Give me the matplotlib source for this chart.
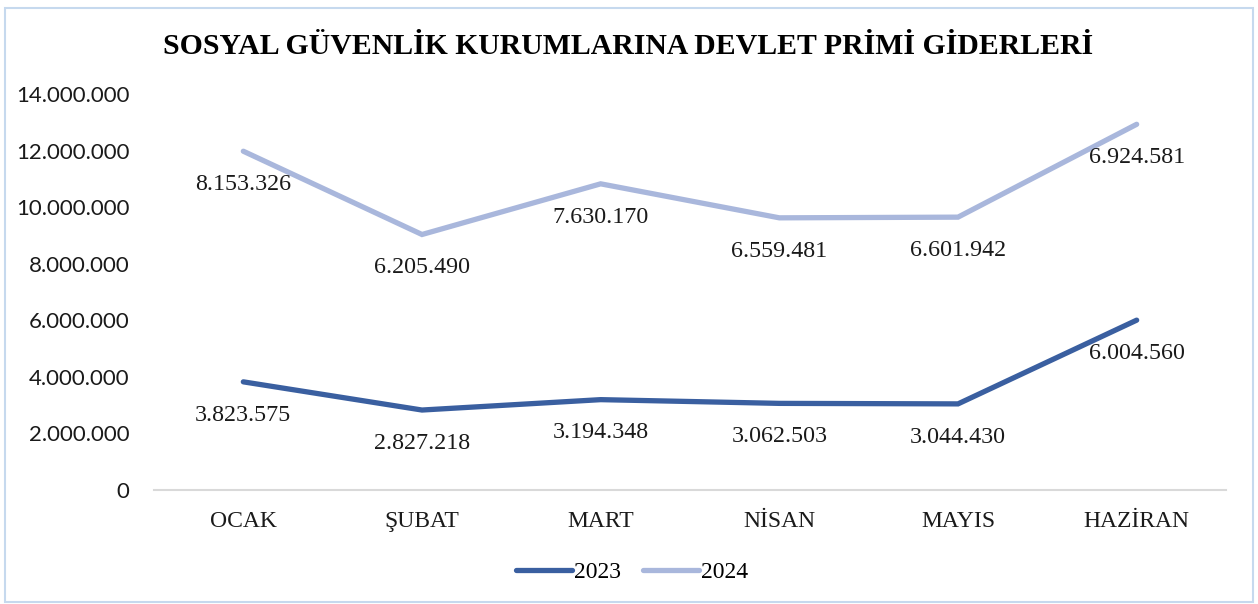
import matplotlib
matplotlib.use("Agg")
import matplotlib.pyplot as plt
import numpy as np
from matplotlib.patches import Rectangle
from matplotlib.ticker import FuncFormatter

months = ["OCAK", "ŞUBAT", "MART", "NİSAN", "MAYIS", "HAZİRAN"]
v2023 = [3823575, 2827218, 3194348, 3062503, 3044430, 6004560]
v2024 = [8153326, 6205490, 7630170, 6559481, 6601942, 6924581]
yticks = [0, 2000000, 4000000, 6000000, 8000000, 10000000, 12000000, 14000000]

c2023 = "#3A5FA0"
c2024 = "#A9B7DC"
serif = "Liberation Serif"

def tr(n):
    return f"{n:,}".replace(",", ".")

fig = plt.figure(figsize=(12.58, 6.04), dpi=100)
fig.patch.set_facecolor("white")
fig.patches.append(Rectangle((5/1258, 1 - 602/604), 1248/1258, 594/604,
                             transform=fig.transFigure, fill=False,
                             edgecolor="#C6D9EE", linewidth=1.5))

ax = fig.add_axes([154/1258, 1 - 490/604, (1226-154)/1258, (490-94)/604])
x = np.arange(len(months))
stack2024 = np.add(v2023, v2024)

ax.plot(x, v2023, color=c2023, lw=3.8, solid_capstyle="round", solid_joinstyle="miter", label="2023")
ax.plot(x, stack2024, color=c2024, lw=3.8, solid_capstyle="round", solid_joinstyle="miter", label="2024")

for xi, y, v in zip(x, v2023, v2023):
    ax.annotate(tr(v), (xi, y), xytext=(0, -24), textcoords="offset points",
                ha="center", va="center", fontsize=17.3, family=serif, color="#1a1a1a")
for xi, y, v in zip(x, stack2024, v2024):
    ax.annotate(tr(v), (xi, y), xytext=(0, -24), textcoords="offset points",
                ha="center", va="center", fontsize=17.3, family=serif, color="#1a1a1a")

ax.set_xlim(-0.5, len(months) - 0.5)
ax.set_ylim(0, 14000000)
ax.set_yticks(yticks)
ax.yaxis.set_major_formatter(FuncFormatter(lambda v, p: tr(int(v))))
ax.set_xticks(x)
ax.set_xticklabels(months, family=serif, fontsize=17)
for lab in ax.get_yticklabels():
    lab.set_family("Lato")
    lab.set_fontsize(16)
ax.tick_params(axis="both", length=0, colors="#1a1a1a")
ax.tick_params(axis="y", pad=17.5)
ax.tick_params(axis="x", pad=15)
for s in ["top", "right", "left"]:
    ax.spines[s].set_visible(False)
ax.spines["bottom"].set_color("#D9D9D9")
ax.spines["bottom"].set_linewidth(1.5)
ax.set_facecolor("none")

fig.text(628/1258, 1 - 46/604, "SOSYAL GÜVENLİK KURUMLARINA DEVLET PRİMİ GİDERLERİ",
         ha="center", va="center", fontsize=21.4, fontweight="bold", family=serif)

leg = fig.legend(loc="center", bbox_to_anchor=(632/1258, 1 - 572/604), ncol=2,
                 frameon=False, prop={"family": serif, "size": 17},
                 handlelength=2.4, handletextpad=0.08, columnspacing=0.9)

fig.savefig("out.png", dpi=100, facecolor="white")
